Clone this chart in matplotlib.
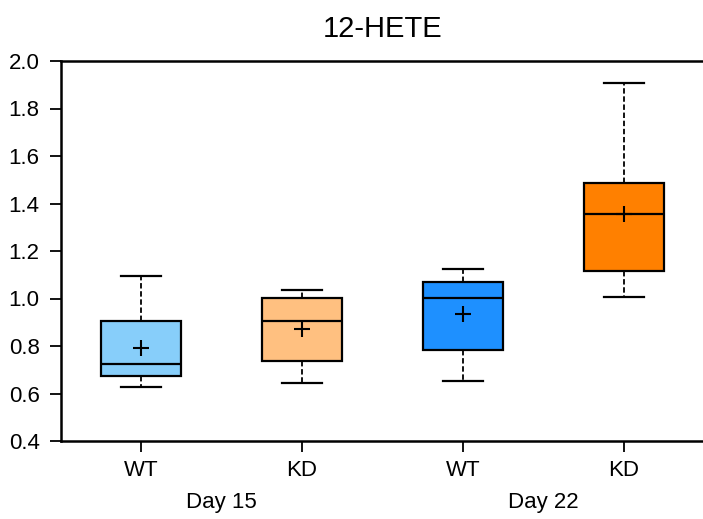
import matplotlib.pyplot as plt

plt.rcParams['font.family'] = ['Liberation Sans', 'DejaVu Sans']

# box statistics
groups = ['WT', 'KD', 'WT', 'KD']
days = ['Day 15', 'Day 22']
whisker_low = [0.626, 0.644, 0.651, 1.006]
q1 = [0.675, 0.738, 0.782, 1.116]
medians = [0.723, 0.905, 1.001, 1.357]
q3 = [0.905, 1.002, 1.068, 1.486]
whisker_high = [1.093, 1.036, 1.124, 1.909]
means = [0.790, 0.870, 0.935, 1.355]
colors = ['#87CEFA', '#FFC080', '#1E90FF', '#FF8000']

stats = []
for i in range(len(groups)):
    stats.append({'whislo': whisker_low[i], 'q1': q1[i], 'med': medians[i],
                  'q3': q3[i], 'whishi': whisker_high[i], 'mean': means[i],
                  'fliers': []})

fig = plt.figure(figsize=(7.03, 5.19), dpi=100)
ax = fig.add_axes([60.5 / 703, 78 / 519, 644 / 703, 380 / 519])

positions = [1, 2, 3, 4]
bp = ax.bxp(stats, positions=positions, widths=0.5, patch_artist=True,
            showmeans=True, showfliers=False,
            boxprops=dict(edgecolor='black', linewidth=1.6),
            medianprops=dict(color='black', linewidth=1.6),
            whiskerprops=dict(color='black', linewidth=1.3, linestyle=(0, (3, 1.5))),
            capprops=dict(color='black', linewidth=1.6),
            capwidths=0.25,
            meanprops=dict(marker='+', markeredgecolor='black', markersize=12,
                           markeredgewidth=1.5))
for patch, c in zip(bp['boxes'], colors):
    patch.set_facecolor(c)

ax.set_xlim(0.5, 4.5)
ax.set_ylim(0.4, 2.0)
ax.set_yticks([0.4, 0.6, 0.8, 1.0, 1.2, 1.4, 1.6, 1.8, 2.0])
ax.set_yticklabels(['%.1f' % v for v in ax.get_yticks()])
ax.set_xticks(positions)
ax.set_xticklabels(groups)
ax.tick_params(axis='both', labelsize=16, length=8, width=1.3, direction='out', pad=7)
ax.tick_params(axis='x', pad=6)
for side in ['left', 'bottom', 'top']:
    ax.spines[side].set_linewidth(1.8)
ax.spines['right'].set_visible(False)

ax.set_title('12-HETE', fontsize=21, pad=17)

# day labels under each pair
for j, d in enumerate(days):
    ax.text((positions[2 * j] + positions[2 * j + 1]) / 2, -0.176, d,
            transform=ax.get_xaxis_transform(), ha='center', va='baseline', fontsize=16)

fig.savefig('out.png', dpi=100)
